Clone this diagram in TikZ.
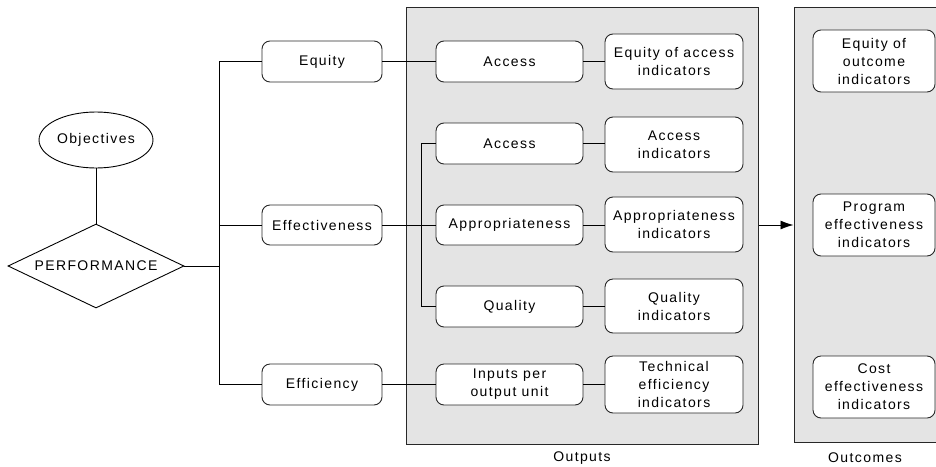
\documentclass[tikz,border=0pt]{standalone}
\usepackage{fontspec}
\setmainfont{Liberation Sans}[LetterSpace=10]
\usetikzlibrary{shapes.geometric,arrows.meta}
\definecolor{panelgray}{RGB}{228,228,228}
\definecolor{linegray}{RGB}{40,40,40}
\tikzset{
  txt/.style={font=\fontsize{14}{18}\selectfont, text=black, align=center},
  rbox/.style={txt, draw=linegray, line width=0.9pt, fill=white, rounded corners=8pt, inner sep=0pt},
  panel/.style={draw=linegray, line width=1pt, fill=panelgray, inner sep=0pt},
  conn/.style={draw=black, line width=0.9pt},
}
\begin{document}
\begin{tikzpicture}[x=1pt,y=-1pt]
\useasboundingbox (0,0) rectangle (936,466);
% panels
\node[panel, minimum width=352pt, minimum height=436.5pt] (outp) at (582,225.75) {};
\node[panel, minimum width=144pt, minimum height=434.5pt] (outc) at (866,224.75) {};
\node[txt] (outl) at (582,458) {Outputs};
\node[txt] (outcl) at (865,458) {Outcomes};
% left part
\node[txt, ellipse, draw=black, line width=0.9pt, fill=white, minimum width=114pt, minimum height=56pt, inner sep=0pt] (obj) at (96,140) {Objectives};
\node[txt, diamond, draw=black, line width=0.9pt, fill=white, aspect=2.1, minimum width=176pt, minimum height=84pt, inner sep=0pt] (perf) at (96,266) {PERFORMANCE};
\coordinate (tr) at (219,266);
\node[rbox, minimum width=120pt, minimum height=41pt] (eq) at (322,61.5) {Equity};
\node[rbox, minimum width=120pt, minimum height=40pt] (eff) at (322,225) {Effectiveness};
\node[rbox, minimum width=120pt, minimum height=41pt] (effi) at (322,384.5) {Efficiency};
% column 1
\node[rbox, minimum width=147pt, minimum height=41pt] (acc1) at (509.5,61.5) {Access};
\node[rbox, minimum width=147pt, minimum height=41pt] (acc2) at (509.5,143.5) {Access};
\node[rbox, minimum width=147pt, minimum height=40pt] (app) at (509.5,225) {Appropriateness};
\node[rbox, minimum width=147pt, minimum height=41pt] (qual) at (509.5,306.5) {Quality};
\node[rbox, minimum width=147pt, minimum height=41pt] (inp) at (509.5,384.5) {Inputs per\\output unit};
\coordinate (br) at (421,225);
% column 2
\node[rbox, minimum width=138pt, minimum height=55pt] (eai) at (674,61.5) {Equity of access\\indicators};
\node[rbox, minimum width=138pt, minimum height=55pt] (ai) at (674,144.5) {Access\\indicators};
\node[rbox, minimum width=138pt, minimum height=55pt] (api) at (674,224.5) {Appropriateness\\indicators};
\node[rbox, minimum width=138pt, minimum height=54pt] (qi) at (674,306) {Quality\\indicators};
\node[rbox, minimum width=138pt, minimum height=57pt] (tei) at (674,384.5) {Technical\\efficiency\\indicators};
% outcomes
\node[rbox, minimum width=122pt, minimum height=62pt] (eoi) at (874,61) {Equity of\\outcome\\indicators};
\node[rbox, minimum width=122pt, minimum height=62pt] (pei) at (874,225) {Program\\effectiveness\\indicators};
\node[rbox, minimum width=122pt, minimum height=62pt] (cei) at (874,387) {Cost\\effectiveness\\indicators};
% connectors
\draw[conn] (obj.south) -- (perf.north);
\draw[conn] (perf.east) -- (tr);
\draw[conn] (eq.west) -- (eq.west -| tr) -- (effi.west -| tr) -- (effi.west);
\draw[conn] (eff.west) -- (eff.west -| tr);
\draw[conn] (eq.east) -- (acc1.west);
\draw[conn] (eff.east) -- (app.west);
\draw[conn] (effi.east) -- (inp.west);
\draw[conn] (acc2.west) -- (acc2.west -| br) -- (qual.west -| br) -- (qual.west);
\draw[conn] (acc1.east) -- (eai.west);
\draw[conn] (acc2.east) -- (acc2.east -| ai.west);
\draw[conn] (app.east) -- (app.east -| api.west);
\draw[conn] (qual.east) -- (qual.east -| qi.west);
\draw[conn] (inp.east) -- (inp.east -| tei.west);
\draw[conn, -{Latex[length=13pt,width=9pt]}] (outp.east |- eff.east) -- (outc.west |- eff.east);
\end{tikzpicture}
\end{document}
